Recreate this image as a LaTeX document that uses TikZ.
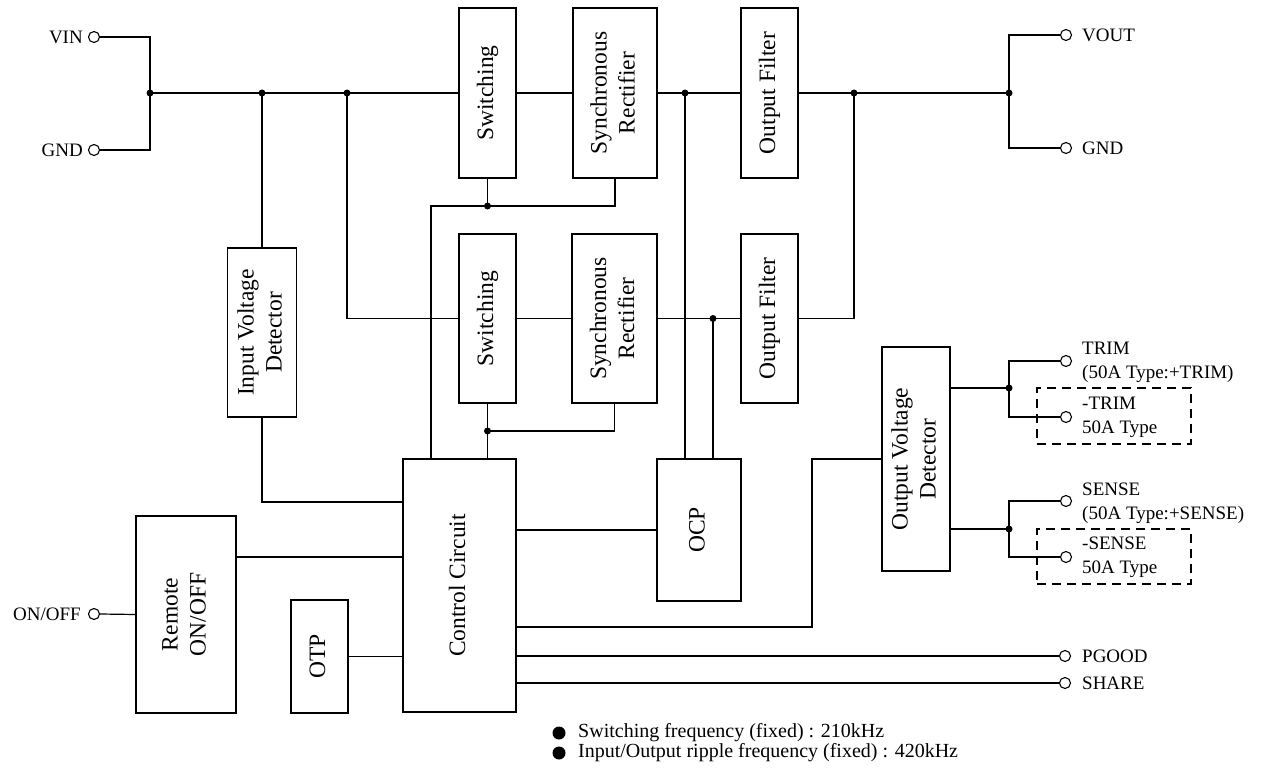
\documentclass[tikz,border=0pt]{standalone}
\usepackage{fontspec}
\setmainfont{Liberation Serif}
\usetikzlibrary{calc}
\newcommand\rt[1]{\rotatebox{90}{\begin{tabular}{@{}c@{}}#1\end{tabular}}}
\begin{document}
\begin{tikzpicture}[x=1pt,y=-1pt,
  wire/.style={line width=1.2pt},
  blk/.style={draw, line width=1.4pt, inner sep=0pt, font=\fontsize{23.5}{28}\selectfont},
  term/.style={draw, circle, line width=1.1pt, minimum size=11pt, inner sep=0pt, fill=white},
  lbl/.style={font=\fontsize{19}{24}\selectfont, inner sep=0pt, align=left},
  note/.style={font=\fontsize{20}{24}\selectfont, inner sep=0pt, anchor=west},
  jdot/.style={circle, fill=black, minimum size=7pt, inner sep=0pt},
  bdot/.style={circle, fill=black, minimum size=13pt, inner sep=0pt},
  dashbox/.style={draw, dash pattern=on 9pt off 6pt, line width=1.2pt, inner sep=0pt}]
\useasboundingbox (0,0) rectangle (1261,773);

% blocks
\node[blk, minimum width=57pt, minimum height=170pt] (sw1) at (487.5,93) {\rt{Switching}};
\node[blk, minimum width=84pt, minimum height=170pt] (sr1) at (615,93) {\rt{Synchronous\\Rectifier}};
\node[blk, minimum width=57pt, minimum height=170pt] (of1) at (769.5,93) {\rt{Output Filter}};
\node[blk, minimum width=57pt, minimum height=169pt] (sw2) at (487.5,318.5) {\rt{Switching}};
\node[blk, minimum width=85pt, minimum height=169pt] (sr2) at (614.5,318.5) {\rt{Synchronous\\Rectifier}};
\node[blk, minimum width=57pt, minimum height=169pt] (of2) at (769.5,318.5) {\rt{Output Filter}};
\node[blk, minimum width=69pt, minimum height=169pt] (ivd) at (262,332.5) {\rt{Input Voltage\\Detector}};
\node[blk, minimum width=113pt, minimum height=253pt] (cc) at (459.5,585.5) {\rt{Control Circuit}};
\node[blk, minimum width=84pt, minimum height=142pt] (ocp) at (699,530) {\rt{OCP}};
\node[blk, minimum width=68pt, minimum height=224pt] (ovd) at (916,459) {\rt{Output Voltage\\Detector}};
\node[blk, minimum width=100pt, minimum height=197pt] (rem) at (186,614.5) {\rt{Remote\\ON/OFF}};
\node[blk, minimum width=57pt, minimum height=113pt] (otp) at (319.5,656.5) {\rt{OTP}};

% dashed boxes
\node[dashbox, minimum width=154pt, minimum height=56pt] (dtrim) at (1114,416) {};
\node[dashbox, minimum width=154pt, minimum height=55pt] (dsense) at (1114,556.5) {};

% terminals
\node[term] (tvin) at (94,37) {};
\node[term] (tgnd) at (94,150) {};
\node[term] (tvout) at (1066,35) {};
\node[term] (tgnd2) at (1066,148) {};
\node[term] (ttrim) at (1066,361) {};
\node[term] (tmtrim) at (1066,417) {};
\node[term] (tsense) at (1066,501) {};
\node[term] (tmsense) at (1066,557) {};
\node[term] (tpg) at (1065,656) {};
\node[term] (tsh) at (1065,683) {};
\node[term] (ton) at (94,614) {};

% labels
\node[lbl, anchor=east] (lvin) at (83,37) {VIN};
\node[lbl, anchor=east] (lgnd) at (83,150) {GND};
\node[lbl, anchor=east] (lon) at (81,614) {ON/OFF};
\node[lbl, anchor=west] (lvout) at (1082,35) {VOUT};
\node[lbl, anchor=west] (lgnd2) at (1082,148) {GND};
\node[lbl, anchor=west] (ltrim) at (1082,362) {TRIM\\(50A Type:+TRIM)};
\node[lbl, anchor=west] (lmtrim) at (1082,417) {-TRIM\\50A Type};
\node[lbl, anchor=west] (lsense) at (1082,503) {SENSE\\(50A Type:+SENSE)};
\node[lbl, anchor=west] (lmsense) at (1082,557) {-SENSE\\50A Type};
\node[lbl, anchor=west] (lpg) at (1082,656) {PGOOD};
\node[lbl, anchor=west] (lsh) at (1082,683) {SHARE};

% coordinates
\coordinate (jA) at (150,93);
\coordinate (jB) at (262,93);
\coordinate (jC) at (347,93);
\coordinate (jD) at (685,93);
\coordinate (jE) at (854,93);
\coordinate (jO) at (1009,93);
\coordinate (jF) at (487.5,206);
\coordinate (cF) at (431,206);
\coordinate (jH) at (487.5,431);
\coordinate (jI) at (713,318.5);
\coordinate (cI) at (262,502);
\coordinate (cR) at (236,557);
\coordinate (cV) at (812,627);
\coordinate (jT) at (1009,388);
\coordinate (jS) at (1009,529);

% wires
\draw[wire] (tvin.east) -| (jA) |- (tgnd.east);
\draw[wire] (jA) -- (sw1.west);
\draw[wire] (sw1.east) -- (sr1.west);
\draw[wire] (sr1.east) -- (of1.west);
\draw[wire] (of1.east) -- (jO);
\draw[wire] (tvout.west) -| (jO) |- (tgnd2.west);
\draw[wire] (jB) -- (ivd.north);
\draw[wire] (ivd.south) -- (cI) -- (cI -| cc.west);
\draw[wire] (jC) |- (sw2.west);
\draw[wire] (sw2.east) -- (sr2.west);
\draw[wire] (sr2.east) -- (of2.west);
\draw[wire] (of2.east) -| (jE);
\draw[wire] (jD) -- (jD |- ocp.north);
\draw[wire] (jI) -- (jI |- ocp.north);
\draw[wire] (sw1.south) -- (jF);
\draw[wire] (sr1.south) |- (cF) -- (cF |- cc.north);
\draw[wire] (sw2.south) -- (sw2.south |- cc.north);
\draw[wire] (jH) -| (sr2.south);
\draw[wire] (ocp.west) -- (ocp.west -| cc.east);
\draw[wire] (cR) -- (cR -| cc.west);
\draw[wire] (otp.east) -- (otp.east -| cc.west);
\draw[wire] (ton.east) -- (rem.west);
\draw[wire] (cV -| cc.east) -- (cV) |- (ovd.west);
\draw[wire] (tpg.west) -- (tpg.west -| cc.east);
\draw[wire] (tsh.west) -- (tsh.west -| cc.east);
\draw[wire] (jT -| ovd.east) -- (jT);
\draw[wire] (ttrim.west) -| (jT) |- (tmtrim.west);
\draw[wire] (jS -| ovd.east) -- (jS);
\draw[wire] (tsense.west) -| (jS) |- (tmsense.west);

% junction dots
\foreach \j in {jA,jB,jC,jD,jE,jO,jF,jH,jI,jT,jS} \node[jdot] at (\j) {};

% notes
\node[bdot] (n1) at (559,733) {};
\node[bdot] (n2) at (559,753) {};
\node[note] (t1) at (578,733) {Switching frequency (fixed) : 210kHz};
\node[note] (t2) at (578,753) {Input/Output ripple frequency (fixed) : 420kHz};
\end{tikzpicture}
\end{document}
